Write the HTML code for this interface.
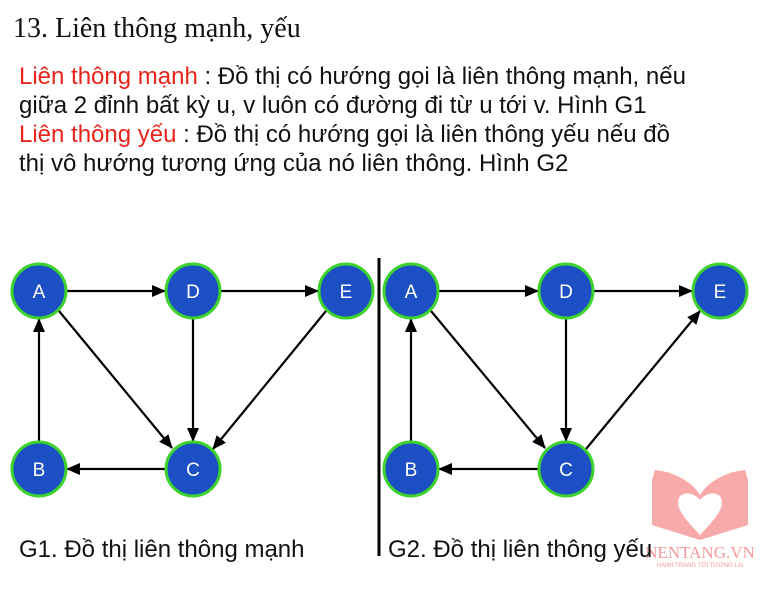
<!DOCTYPE html>
<html><head><meta charset="utf-8"><style>
body{margin:0;width:768px;height:592px;background:#fff;position:relative;overflow:hidden;font-family:"Liberation Sans",sans-serif;color:#111}
.t{position:absolute;left:13px;top:13px;font-family:"Liberation Serif",serif;font-size:28px}
.p{position:absolute;left:19px;top:62px;font-size:24px;line-height:29px;white-space:nowrap}
.r{color:#e8241c}
.c{position:absolute;top:536px;font-size:24px}
</style></head><body>
<div class="t">13. Liên thông mạnh, yếu</div>
<div class="p"><span class="r">Liên thông mạnh</span> : Đồ thị có hướng gọi là liên thông mạnh, nếu<br>giữa 2 đỉnh bất kỳ u, v luôn có đường đi từ u tới v. Hình G1<br><span class="r">Liên thông yếu</span> : Đồ thị có hướng gọi là liên thông yếu nếu đồ<br>thị vô hướng tương ứng của nó liên thông. Hình G2</div>
<svg width="768" height="592" style="position:absolute;left:0;top:0">
<defs><marker id="m" markerWidth="14" markerHeight="12" refX="13" refY="6" orient="auto" markerUnits="userSpaceOnUse"><path d="M0,0L14,6L0,12z" fill="#000"/></marker></defs>
<g stroke="#000" stroke-width="2.2" marker-end="url(#m)">
<line x1="67" y1="291" x2="165" y2="291"/>
<line x1="221" y1="291" x2="318" y2="291"/>
<line x1="39" y1="442" x2="39" y2="319"/>
<line x1="59" y1="311" x2="172" y2="448"/>
<line x1="193" y1="319" x2="193" y2="441"/>
<line x1="326" y1="311" x2="213" y2="449"/>
<line x1="165" y1="469" x2="67" y2="469"/>
<line x1="439" y1="291" x2="538" y2="291"/>
<line x1="594" y1="291" x2="692" y2="291"/>
<line x1="411" y1="442" x2="411" y2="319"/>
<line x1="431" y1="311" x2="545" y2="448"/>
<line x1="566" y1="319" x2="566" y2="441"/>
<line x1="586" y1="449" x2="700" y2="311"/>
<line x1="538" y1="469" x2="439" y2="469"/>
</g>
<line x1="379" y1="258" x2="379" y2="556" stroke="#000" stroke-width="3"/>
<g fill="#1c4fc4" stroke="#3dd22e" stroke-width="3">
<circle cx="39" cy="291" r="27"/><circle cx="193" cy="291" r="27"/><circle cx="346" cy="291" r="27"/><circle cx="39" cy="469" r="27"/><circle cx="193" cy="469" r="27"/>
<circle cx="411" cy="291" r="27"/><circle cx="566" cy="291" r="27"/><circle cx="720" cy="291" r="27"/><circle cx="411" cy="469" r="27"/><circle cx="566" cy="469" r="27"/>
</g>
<g fill="#fff" font-family="Liberation Sans,sans-serif" font-size="19" text-anchor="middle">
<text x="39" y="298">A</text><text x="193" y="298">D</text><text x="346" y="298">E</text><text x="39" y="476">B</text><text x="193" y="476">C</text>
<text x="411" y="298">A</text><text x="566" y="298">D</text><text x="720" y="298">E</text><text x="411" y="476">B</text><text x="566" y="476">C</text>
</g>
<g fill="#f7a0a0">
<path d="M652 480 L655 470 C675 472 692 482 700 495 C708 482 725 472 745 470 L748 480 L748 525 L700 540 L652 525Z" opacity="0.9"/>
<path d="M700 535 C688 522 678 512 678 502 C678 492 692 490 700 500 C708 490 722 492 722 502 C722 512 712 522 700 535Z" fill="#fff"/>
</g>
<text x="700" y="558" fill="#f59a9a" font-family="Liberation Serif,serif" font-size="17" text-anchor="middle">NENTANG.VN</text>
<text x="700" y="567" fill="#f59a9a" font-family="Liberation Sans,sans-serif" font-size="6" text-anchor="middle">HÀNH TRANG TỚI TƯƠNG LAI</text>
</svg>
<div class="c" style="left:19px">G1. Đồ thị liên thông mạnh</div>
<div class="c" style="left:388px">G2. Đồ thị liên thông yếu</div>
</body></html>
